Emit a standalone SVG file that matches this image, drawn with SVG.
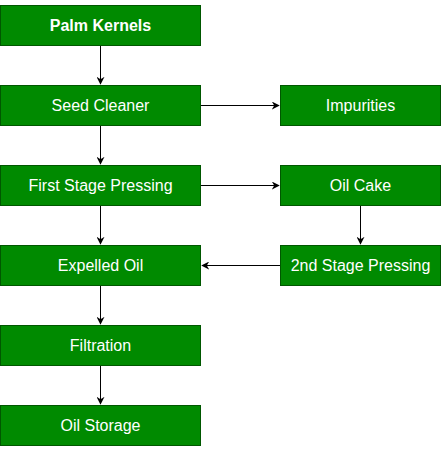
<svg xmlns="http://www.w3.org/2000/svg" width="441" height="451" viewBox="0 0 441 451">
<defs>
<marker id="ah" viewBox="0 0 10 10" refX="9" refY="5" markerWidth="8" markerHeight="8" markerUnits="userSpaceOnUse" orient="auto">
<path d="M0,0 L10,5 L0,10 L3,5 Z" fill="#000"/>
</marker>
<style>
.box{fill:#008a00;stroke:#005700;stroke-width:1}
.t{font-family:"Liberation Sans",Arial,sans-serif;font-size:16px;fill:#fff;text-anchor:middle;dominant-baseline:central}
.b{font-weight:bold}
.c{stroke:#000;stroke-width:1;fill:none;marker-end:url(#ah)}
</style>
</defs>
<rect width="441" height="451" fill="#fff"/>
<g id="connectors">
<path class="c" d="M100.5,45.5 V84"/>
<path class="c" d="M100.5,125.5 V164"/>
<path class="c" d="M100.5,205.5 V244"/>
<path class="c" d="M100.5,285.5 V324"/>
<path class="c" d="M100.5,365.5 V404"/>
<path class="c" d="M200.5,105.5 H279"/>
<path class="c" d="M200.5,185.5 H279"/>
<path class="c" d="M360.5,205.5 V244"/>
<path class="c" d="M280.5,265.5 H202"/>
</g>
<g id="n1"><rect class="box" x="0.5" y="5.5" width="200" height="40"/><text class="t b" x="100.5" y="25.5">Palm Kernels</text></g>
<g id="n2"><rect class="box" x="0.5" y="85.5" width="200" height="40"/><text class="t" x="100.5" y="105.5">Seed Cleaner</text></g>
<g id="n3"><rect class="box" x="0.5" y="165.5" width="200" height="40"/><text class="t" x="100.5" y="185.5">First Stage Pressing</text></g>
<g id="n4"><rect class="box" x="0.5" y="245.5" width="200" height="40"/><text class="t" x="100.5" y="265.5">Expelled Oil</text></g>
<g id="n5"><rect class="box" x="0.5" y="325.5" width="200" height="40"/><text class="t" x="100.5" y="345.5">Filtration</text></g>
<g id="n6"><rect class="box" x="0.5" y="405.5" width="200" height="40"/><text class="t" x="100.5" y="425.5">Oil Storage</text></g>
<g id="n7"><rect class="box" x="280.5" y="85.5" width="160" height="40"/><text class="t" x="360.5" y="105.5">Impurities</text></g>
<g id="n8"><rect class="box" x="280.5" y="165.5" width="160" height="40"/><text class="t" x="360.5" y="185.5">Oil Cake</text></g>
<g id="n9"><rect class="box" x="280.5" y="245.5" width="160" height="40"/><text class="t" x="360.5" y="265.5">2nd Stage Pressing</text></g>
</svg>
